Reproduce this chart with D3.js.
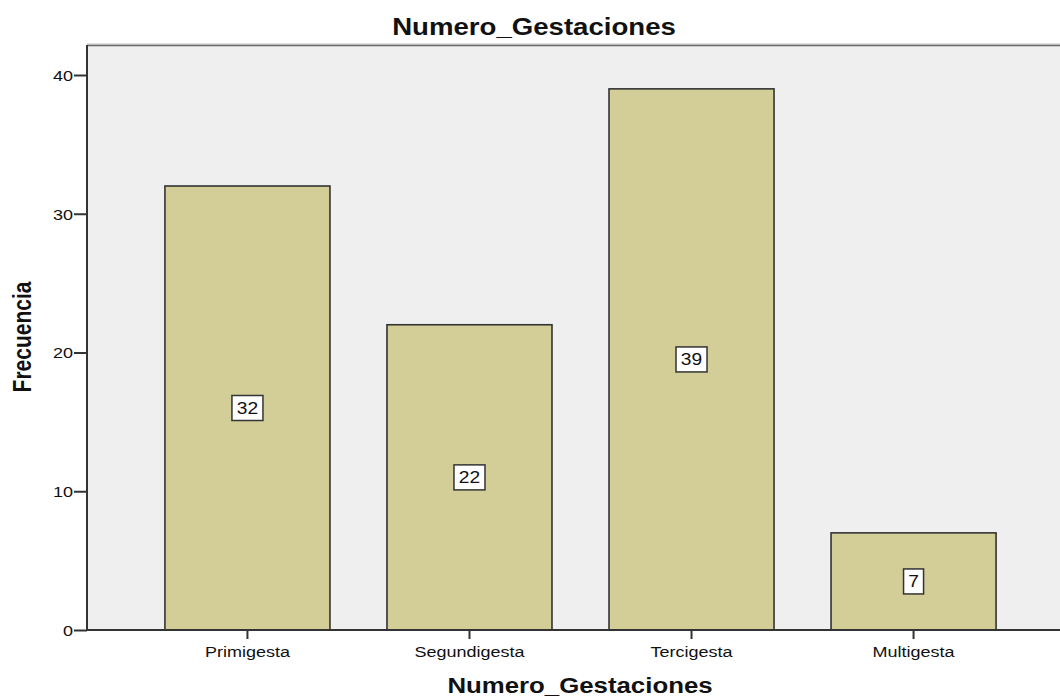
<!DOCTYPE html>
<html>
<head>
<meta charset="utf-8">
<script src="https://cdn.jsdelivr.net/npm/d3@7"></script>
<style>
  body { margin: 0; background: #fff; }
  text { font-family: "Liberation Sans", Arial, sans-serif; fill: #111; }
</style>
</head>
<body>
<svg width="1060" height="697"></svg>
<script>
const categories = ['Primigesta', 'Segundigesta', 'Tercigesta', 'Multigesta'];
const counts = [32, 22, 39, 7];
const yTicks = [0, 10, 20, 30, 40];

const svg = d3.select('svg');
const stretch = 1.2; // text in the original is drawn a bit wide

const plotL = 87, plotR = 1074, plotT = 45, plotB = 630;

const x = d3.scaleBand()
  .domain(categories)
  .range([plotL, plotR])
  .paddingInner(0.2568)
  .paddingOuter(0.351);

const y = d3.scaleLinear()
  .domain([0, 40])
  .range([plotB, plotB - 555]);

// plot background
svg.append('rect')
  .attr('x', plotL).attr('y', plotT)
  .attr('width', 1060 - plotL).attr('height', plotB - plotT)
  .attr('fill', '#efefef');

svg.append('line')
  .attr('x1', plotL).attr('x2', 1060).attr('y1', plotT - 1).attr('y2', plotT - 1)
  .attr('stroke', '#bbb').attr('stroke-width', 1);
svg.append('line')
  .attr('x1', plotL).attr('x2', 1060).attr('y1', plotT + 0.5).attr('y2', plotT + 0.5)
  .attr('stroke', '#666').attr('stroke-width', 1.5);

// bars
svg.selectAll('rect.bar')
  .data(counts)
  .enter().append('rect')
  .attr('class', 'bar')
  .attr('x', (d, i) => x(categories[i]))
  .attr('y', d => y(d))
  .attr('width', x.bandwidth())
  .attr('height', d => plotB - y(d))
  .attr('fill', '#d3ce98')
  .attr('stroke', '#333')
  .attr('stroke-width', 1.6);

// y axis
const yAxis = svg.append('g')
  .attr('transform', `translate(${plotL},0)`)
  .call(d3.axisLeft(y).tickValues(yTicks).tickSize(13).tickPadding(1).tickSizeOuter(0));
yAxis.select('.domain').attr('stroke', '#333').attr('stroke-width', 2)
  .attr('d', `M0,${plotT}V${plotB}`);
yAxis.selectAll('.tick line').attr('stroke', '#333').attr('stroke-width', 2);
yAxis.selectAll('.tick text')
  .attr('font-size', 15)
  .attr('fill', '#222')
  .attr('dy', '0.36em')
  .attr('transform', function() {
    const tx = +d3.select(this).attr('x');
    return `translate(${tx},0) scale(${stretch},1) translate(${-tx},0)`;
  });

// x axis
const xAxis = svg.append('g')
  .attr('transform', `translate(0,${plotB})`)
  .call(d3.axisBottom(x).tickSize(9).tickPadding(7).tickSizeOuter(0));
xAxis.select('.domain').attr('stroke', '#333').attr('stroke-width', 2)
  .attr('d', `M${plotL},0H1060`);
xAxis.selectAll('.tick line').attr('stroke', '#333').attr('stroke-width', 2);
xAxis.selectAll('.tick text')
  .attr('font-size', 15)
  .attr('fill', '#222')
  .attr('transform', `scale(${stretch},1)`);

// value labels in boxes
const labels = svg.selectAll('g.vlabel')
  .data(counts)
  .enter().append('g')
  .attr('class', 'vlabel')
  .attr('transform', (d, i) => `translate(${x(categories[i]) + x.bandwidth() / 2},${y(d / 2)})`);

labels.each(function(d) {
  const g = d3.select(this);
  const w = String(d).length === 1 ? 20 : 31;
  g.append('rect')
    .attr('x', -w / 2).attr('y', -12.5)
    .attr('width', w).attr('height', 25)
    .attr('fill', '#fff')
    .attr('stroke', '#333')
    .attr('stroke-width', 1.5);
  g.append('text')
    .attr('text-anchor', 'middle')
    .attr('dy', '0.36em')
    .attr('font-size', 16)
    .attr('transform', `scale(${stretch},1)`)
    .text(d);
});

// title
svg.append('text')
  .attr('transform', `translate(534,35) scale(${stretch},1)`)
  .attr('text-anchor', 'middle')
  .attr('font-size', 23)
  .attr('font-weight', 'bold')
  .text('Numero_Gestaciones');

// x title
svg.append('text')
  .attr('transform', `translate(580,693) scale(${stretch},1)`)
  .attr('text-anchor', 'middle')
  .attr('font-size', 21.5)
  .attr('font-weight', 'bold')
  .text('Numero_Gestaciones');

// y title
svg.append('text')
  .attr('transform', `translate(31,337) rotate(-90) scale(1,${stretch})`)
  .attr('text-anchor', 'middle')
  .attr('font-size', 21)
  .attr('font-weight', 'bold')
  .text('Frecuencia');
</script>
</body>
</html>
